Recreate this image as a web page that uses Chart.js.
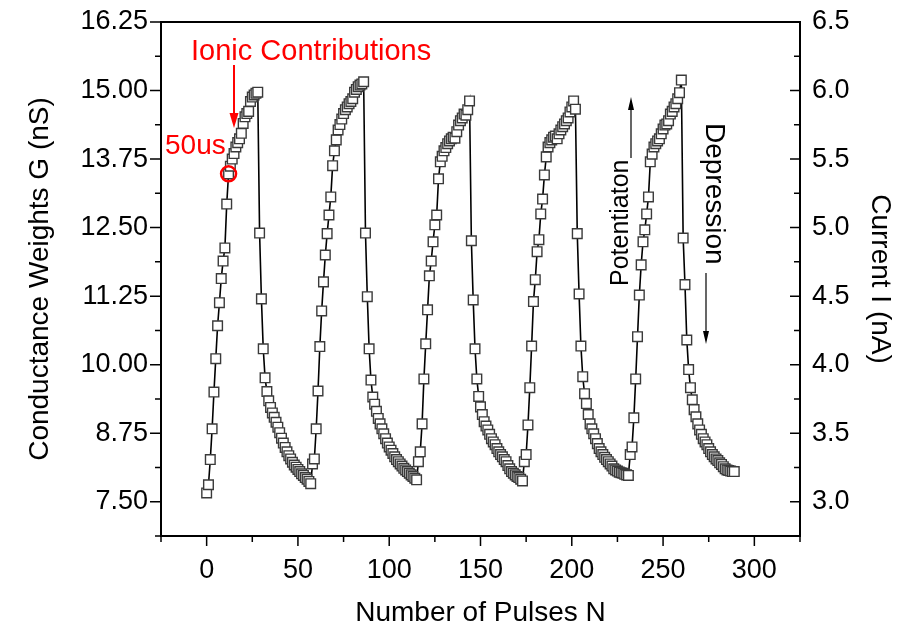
<!DOCTYPE html>
<html>
<head>
<meta charset="utf-8">
<title>Conductance Weights vs Number of Pulses</title>
<script src="https://cdn.jsdelivr.net/npm/chart.js@4.4.0/dist/chart.umd.min.js"></script>
<style>
  html, body { margin: 0; padding: 0; background: #fff; }
  #wrap { width: 913px; height: 632px; }
</style>
</head>
<body>
<div id="wrap"><canvas id="chart" width="913" height="632"></canvas></div>
<script>
// Conductance G (nS) per pulse, five potentiation / depression cycles of 58 pulses each
const cycle1 = [
  7.66, 7.81, 8.27, 8.83, 9.50, 10.11, 10.71, 11.13, 11.57, 11.89, 12.13, 12.93, 13.48, 13.62, 13.75,
  13.85, 13.97, 14.05, 14.12, 14.22, 14.40, 14.52, 14.58, 14.62, 14.80, 14.88, 14.92, 14.95, 14.97,
  12.40, 11.20, 10.29, 9.76, 9.51, 9.34, 9.22, 9.12, 9.04, 8.95, 8.86, 8.76, 8.66, 8.57, 8.49,
  8.41, 8.34, 8.28, 8.22, 8.17, 8.13, 8.09, 8.05, 8.01, 7.98, 7.94, 7.91, 7.87, 7.83
];
const cycle2 = [
  8.19, 8.28, 8.83, 9.52, 10.33, 10.98, 11.51, 12.00, 12.39, 12.73, 13.06, 13.63, 13.90, 14.10, 14.28,
  14.38, 14.48, 14.58, 14.65, 14.70, 14.76, 14.80, 14.85, 14.97, 15.02, 15.07, 15.10, 15.12, 15.16,
  12.40, 11.24, 10.29, 9.72, 9.41, 9.28, 9.15, 9.02, 8.92, 8.83, 8.74, 8.65, 8.57, 8.50, 8.44,
  8.38, 8.32, 8.27, 8.23, 8.19, 8.15, 8.11, 8.08, 8.05, 8.02, 7.99, 7.96, 7.93, 7.90
];
const cycle3 = [
  8.23, 8.41, 8.92, 9.74, 10.38, 11.00, 11.62, 11.89, 12.24, 12.55, 12.73, 13.39, 13.70, 13.80, 13.90,
  13.96, 14.03, 14.08, 14.12, 14.15, 14.13, 14.25, 14.37, 14.45, 14.50, 14.57, 14.55, 14.65, 14.81,
  12.26, 11.18, 10.29, 9.74, 9.42, 9.23, 9.09, 8.96, 8.88, 8.81, 8.73, 8.65, 8.59, 8.54, 8.47,
  8.41, 8.36, 8.32, 8.27, 8.23, 8.16, 8.10, 8.05, 8.02, 7.99, 7.96, 7.94, 7.91, 7.88
];
const cycle4 = [
  8.23, 8.36, 8.90, 9.58, 10.34, 11.15, 11.55, 12.06, 12.28, 12.75, 13.02, 13.46, 13.79, 13.97, 14.05,
  14.10, 14.15, 14.17, 14.12, 14.21, 14.28, 14.34, 14.39, 14.45, 14.50, 14.61, 14.70, 14.81, 14.66,
  12.39, 11.29, 10.34, 9.78, 9.47, 9.29, 9.09, 8.92, 8.83, 8.74, 8.65, 8.56, 8.47, 8.41, 8.36,
  8.31, 8.27, 8.23, 8.19, 8.15, 8.10, 8.08, 8.06, 8.04, 8.03, 8.02, 8.00, 7.99, 7.98
];
const cycle5 = [
  8.36, 8.50, 9.03, 9.74, 10.51, 11.27, 11.82, 12.24, 12.46, 12.75, 13.06, 13.70, 13.84, 13.97, 14.03,
  14.08, 14.12, 14.21, 14.30, 14.37, 14.39, 14.45, 14.57, 14.62, 14.70, 14.76, 14.85, 14.96, 15.19,
  12.31, 11.46, 10.45, 9.91, 9.58, 9.36, 9.18, 9.05, 8.92, 8.81, 8.73, 8.65, 8.59, 8.54, 8.47,
  8.41, 8.36, 8.32, 8.28, 8.25, 8.21, 8.18, 8.14, 8.10, 8.08, 8.07, 8.06, 8.05, 8.05
];

// axis ticks
const pulseTicks = [0, 50, 100, 150, 200, 250, 300];
const gTicks = [7.5, 8.75, 10, 11.25, 12.5, 13.75, 15, 16.25];
const currentTicks = [3.0, 3.5, 4.0, 4.5, 5.0, 5.5, 6.0, 6.5];

const conductance = cycle1.concat(cycle2, cycle3, cycle4, cycle5);
const points = conductance.map((g, n) => ({ x: n, y: g }));   // pulse number = index

const FONT = "'Liberation Sans', Arial, sans-serif";
const RED = '#ff0000';
const circledPulse = 12;   // the 50us point

// minor ticks sit halfway between the majors
function halfSteps(ticks) {
  const h = (ticks[1] - ticks[0]) / 2;
  return ticks.map(v => v - h).concat(ticks[ticks.length - 1] + h);
}

function arrow(ctx, x, yFrom, yTo, headLen, headHalf, width) {
  const dir = yTo > yFrom ? 1 : -1;
  ctx.lineWidth = width;
  ctx.beginPath();
  ctx.moveTo(x, yFrom);
  ctx.lineTo(x, yTo - dir * headLen * 0.6);
  ctx.stroke();
  ctx.beginPath();
  ctx.moveTo(x, yTo);
  ctx.lineTo(x - headHalf, yTo - dir * headLen);
  ctx.lineTo(x + headHalf, yTo - dir * headLen);
  ctx.closePath();
  ctx.fill();
}

// keep the plot box where the axes were sized, no extra room for edge labels
function noEdgePadding(s) {
  s.paddingTop = 0;
  s.paddingBottom = 0;
  s.paddingLeft = 0;
  s.paddingRight = 0;
}

const framePlugin = {
  id: 'frame',
  afterDraw(chart) {
    const { ctx, chartArea: a } = chart;
    const sx = chart.scales.x, sg = chart.scales.y, si = chart.scales.y1;
    ctx.save();

    // box
    ctx.strokeStyle = '#000';
    ctx.lineWidth = 2;
    ctx.strokeRect(a.left, a.top, a.right - a.left, a.bottom - a.top);

    // tick marks: bottom and left point out, right points in
    ctx.lineWidth = 1.5;
    ctx.beginPath();
    const mark = (scale, values, len, fn) => values
      .filter(v => v >= scale.min - 1e-9 && v <= scale.max + 1e-9)
      .forEach(v => fn(scale.getPixelForValue(v), len));
    const down = (p, len) => { ctx.moveTo(p, a.bottom); ctx.lineTo(p, a.bottom + len); };
    const left = (p, len) => { ctx.moveTo(a.left, p); ctx.lineTo(a.left - len, p); };
    const inward = (p, len) => { ctx.moveTo(a.right, p); ctx.lineTo(a.right - len, p); };
    mark(sx, pulseTicks, 10, down);
    mark(sx, halfSteps(pulseTicks), 6, down);
    mark(sg, gTicks, 11, left);
    mark(sg, halfSteps(gTicks), 6, left);
    mark(si, currentTicks, 10, inward);
    mark(si, halfSteps(currentTicks), 6, inward);
    ctx.stroke();

    // red notes
    ctx.fillStyle = RED;
    ctx.strokeStyle = RED;
    ctx.textBaseline = 'alphabetic';
    ctx.textAlign = 'left';
    ctx.font = '29px ' + FONT;
    ctx.fillText('Ionic Contributions', 191, 60);
    arrow(ctx, 234, 65, 128, 15, 4.5, 2);
    ctx.font = '28px ' + FONT;
    ctx.fillText('50us', 165, 154);
    const pt = chart.getDatasetMeta(0).data[circledPulse];
    ctx.lineWidth = 2.5;
    ctx.beginPath();
    ctx.arc(pt.x, pt.y, 7.5, 0, Math.PI * 2);
    ctx.stroke();

    // potentiation / depression labels
    ctx.fillStyle = '#000';
    ctx.strokeStyle = '#000';
    ctx.save();
    ctx.translate(628, 286);
    ctx.rotate(-Math.PI / 2);
    ctx.font = '25px ' + FONT;
    ctx.fillText('Potentiaton', 0, 0);
    ctx.restore();
    arrow(ctx, 631, 158, 97, 13, 3, 1.2);

    ctx.save();
    ctx.translate(706, 123);
    ctx.rotate(Math.PI / 2);
    ctx.font = '28px ' + FONT;
    ctx.fillText('Depression', 0, 0);
    ctx.restore();
    arrow(ctx, 706, 273, 344, 13, 3, 1.2);

    ctx.restore();
  }
};

Chart.defaults.font.family = FONT;
Chart.defaults.color = '#000';

new Chart(document.getElementById('chart'), {
  type: 'line',
  data: {
    datasets: [{
      data: points,
      yAxisID: 'y',
      borderColor: '#000',
      borderWidth: 1.6,
      pointStyle: 'rect',
      pointRadius: 6.8,
      pointBorderWidth: 1.4,
      pointBorderColor: '#3a3a3a',
      pointBackgroundColor: '#fff',
      tension: 0
    }]
  },
  options: {
    responsive: false,
    animation: false,
    events: [],
    layout: { padding: { top: 22, left: 0, right: 0, bottom: 0 } },
    plugins: { legend: { display: false }, tooltip: { enabled: false } },
    scales: {
      x: {
        type: 'linear',
        min: -25,
        max: 325,
        afterBuildTicks: s => { s.ticks = pulseTicks.map(v => ({ value: v })); },
        afterFit: s => { s.height = 96; noEdgePadding(s); },
        grid: { display: false, drawTicks: false },
        border: { display: false },
        ticks: { font: { size: 27 }, padding: 18, maxRotation: 0, callback: v => String(v) },
        title: { display: true, text: 'Number of Pulses N', font: { size: 28 }, padding: { top: 0, bottom: 2 } }
      },
      y: {
        position: 'left',
        min: 6.875,
        max: 16.25,
        afterBuildTicks: s => { s.ticks = gTicks.map(v => ({ value: v })); },
        afterFit: s => { s.width = 161; noEdgePadding(s); },
        grid: { display: false, drawTicks: false },
        border: { display: false },
        ticks: { font: { size: 27 }, padding: 13, callback: v => v.toFixed(2) },
        title: { display: true, text: 'Conductance Weights G (nS)', font: { size: 28 }, padding: { top: 23, bottom: 0 } }
      },
      y1: {
        position: 'right',
        min: 2.75,
        max: 6.5,
        afterBuildTicks: s => { s.ticks = currentTicks.map(v => ({ value: v })); },
        afterFit: s => { s.width = 113; noEdgePadding(s); },
        grid: { display: false, drawTicks: false },
        border: { display: false },
        ticks: { font: { size: 27 }, padding: 12, callback: v => v.toFixed(1) },
        title: { display: true, text: 'Current I (nA)', font: { size: 28 }, padding: { top: 16, bottom: 0 } }
      }
    }
  },
  plugins: [framePlugin]
});
</script>
</body>
</html>
